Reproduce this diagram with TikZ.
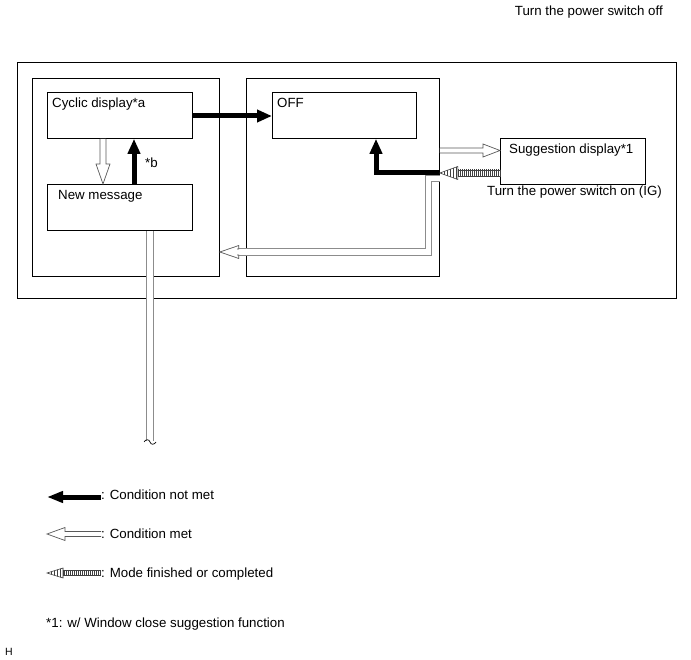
\documentclass[tikz,border=0pt]{standalone}
\usepackage{fontspec}
\setmainfont{Liberation Sans}
\usetikzlibrary{arrows.meta,calc,patterns.meta}
\tikzset{
 box/.style={draw, line width=0.8pt, anchor=north west, inner sep=0pt},
 lbl/.style={anchor=base west, inner sep=0pt, font=\fontsize{13.3}{15}\selectfont},
 blk/.style={line width=5pt, line join=miter, -{Triangle[length=15pt 0 0,width=12pt 0 0]}},
 hol/.style={draw=black!65, line width=0.7pt, fill=white, line join=miter},
 dbl/.style={draw=black!45, line width=0.8pt, double=white, double distance=5.5pt},
 stp/.style={draw=black!75, line width=0.6pt, pattern={Lines[angle=90,distance=2pt,line width=0.6pt]}, pattern color=black!75},
 stph/.style={draw=black!75, line width=0.6pt, pattern={Lines[angle=90,distance=3pt,line width=0.6pt]}, pattern color=black!75},
}
\newcommand\hollowarrow[5]{%
 \coordinate (hC) at ($(#2)!#5!(#1)$);
 \draw[hol] ($(#1)!#3!90:(#2)$) -- ($(hC)!#3!90:(#2)$) -- ($(hC)!#4!90:(#2)$) -- (#2)
   -- ($(hC)!#4!-90:(#2)$) -- ($(hC)!#3!-90:(#2)$) -- ($(#1)!#3!-90:(#2)$);
}
\newcommand\stripearrow[5]{%
 \coordinate (hC) at ($(#2)!#5!(#1)$);
 \draw[stp] ($(#1)!#3!90:(#2)$) -- ($(hC)!#3!90:(#2)$) -- ($(hC)!#3!-90:(#2)$) -- ($(#1)!#3!-90:(#2)$) -- cycle;
 \draw[stph] ($(hC)!#4!90:(#2)$) -- (#2) -- ($(hC)!#4!-90:(#2)$) -- cycle;
}
\begin{document}
\begin{tikzpicture}[x=1pt,y=-1pt]
\useasboundingbox[fill=white] (0,0) rectangle (691,660);
% frames
\node[box, minimum width=659pt, minimum height=236pt] (outer) at (17,62) {};
\node[box, minimum width=187pt, minimum height=198pt] (lp) at (32,78) {};
\node[box, minimum width=193pt, minimum height=198pt] (rp) at (246,78) {};
\node[box, minimum width=145pt, minimum height=46pt] (cyc) at (47,92) {};
\node[box, minimum width=145pt, minimum height=46pt] (nm) at (47,184) {};
\node[box, minimum width=144pt, minimum height=46pt] (off) at (272,92) {};
\node[box, minimum width=145pt, minimum height=46pt] (sug) at (500,138) {};
% texts
\node[lbl] (tcyc) at (52,108) {Cyclic display*a};
\node[lbl] (tnm) at (58,200) {New message};
\node[lbl] (toff) at (277,108) {OFF};
\node[lbl] (tsug) at (509,154) {Suggestion display*1};
\node[lbl] (ton) at (487,196) {Turn the power switch on (IG)};
\node[lbl] (tb) at (145,168) {*b};
\node[lbl, anchor=base east] (toffsw) at (663,16) {Turn the power switch off};
% connector coordinates
\coordinate (c1) at (cyc.east |- 0,116);
\coordinate (c2) at (off.west |- 0,116);
\coordinate (d1) at (cyc.south -| 103,0);
\coordinate (d2) at (nm.north -| 103,0);
\coordinate (u1) at (nm.north -| 134,0);
\coordinate (u2) at (cyc.south -| 134,0);
\coordinate (e1) at (rp.east |- 0,173);
\coordinate (e2) at (off.south -| 376,0);
\coordinate (h1) at (rp.east |- 0,150.5);
\coordinate (h2) at (sug.west |- 0,150.5);
\coordinate (s1) at (sug.west |- 0,173);
\coordinate (s2) at (rp.east |- 0,173);
\coordinate (r1) at (rp.east |- 0,178.5);
\coordinate (r2) at (lp.east |- 0,252);
\coordinate (v1) at (nm.south -| 150,0);
\coordinate (v2) at (150,441);
% return line
\draw[dbl] (r1) -- (428.5,178.5) -- (428.5,252) -- ($(r2)+(18,0)$);
\hollowarrow{237,252}{r2}{3pt}{6.5pt}{19pt}
% down line
\draw[dbl] (v1) -- (v2);
\draw[line width=0.7pt] (144,442) .. controls (146,439) and (149,439) .. (150,442) .. controls (151,445) and (154,445) .. (156,442);
% arrows
\draw[blk] (c1) -- (c2);
\draw[blk] (u1) -- (u2);
\draw[blk] (e1) -| (e2);
\hollowarrow{d1}{d2}{3pt}{7pt}{20pt}
\hollowarrow{h1}{h2}{2.5pt}{6.5pt}{17pt}
\stripearrow{s1}{s2}{3pt}{6.5pt}{18pt}
% legend
\coordinate (l1a) at (101,497); \coordinate (l1b) at (47,497);
\draw[blk, -{Triangle[length=16pt 0 0,width=11pt 0 0]}] (l1a) -- (l1b);
\node[lbl] (lt1) at (101,499) {: Condition not met};
\coordinate (l2a) at (101,534); \coordinate (l2b) at (47,534);
\hollowarrow{l2a}{l2b}{2.5pt}{6.5pt}{18pt}
\node[lbl] (lt2) at (101,538) {: Condition met};
\coordinate (l3a) at (100,573); \coordinate (l3b) at (47,573);
\stripearrow{l3a}{l3b}{2.5pt}{5pt}{16pt}
\node[lbl] (lt3) at (101,577) {: Mode finished or completed};
\node[lbl] (fn) at (46,627) {*1: w/ Window close suggestion function};
\node[lbl, font=\fontsize{10.5}{12}\selectfont] (hh) at (5,655) {H};
\end{tikzpicture}
\end{document}
